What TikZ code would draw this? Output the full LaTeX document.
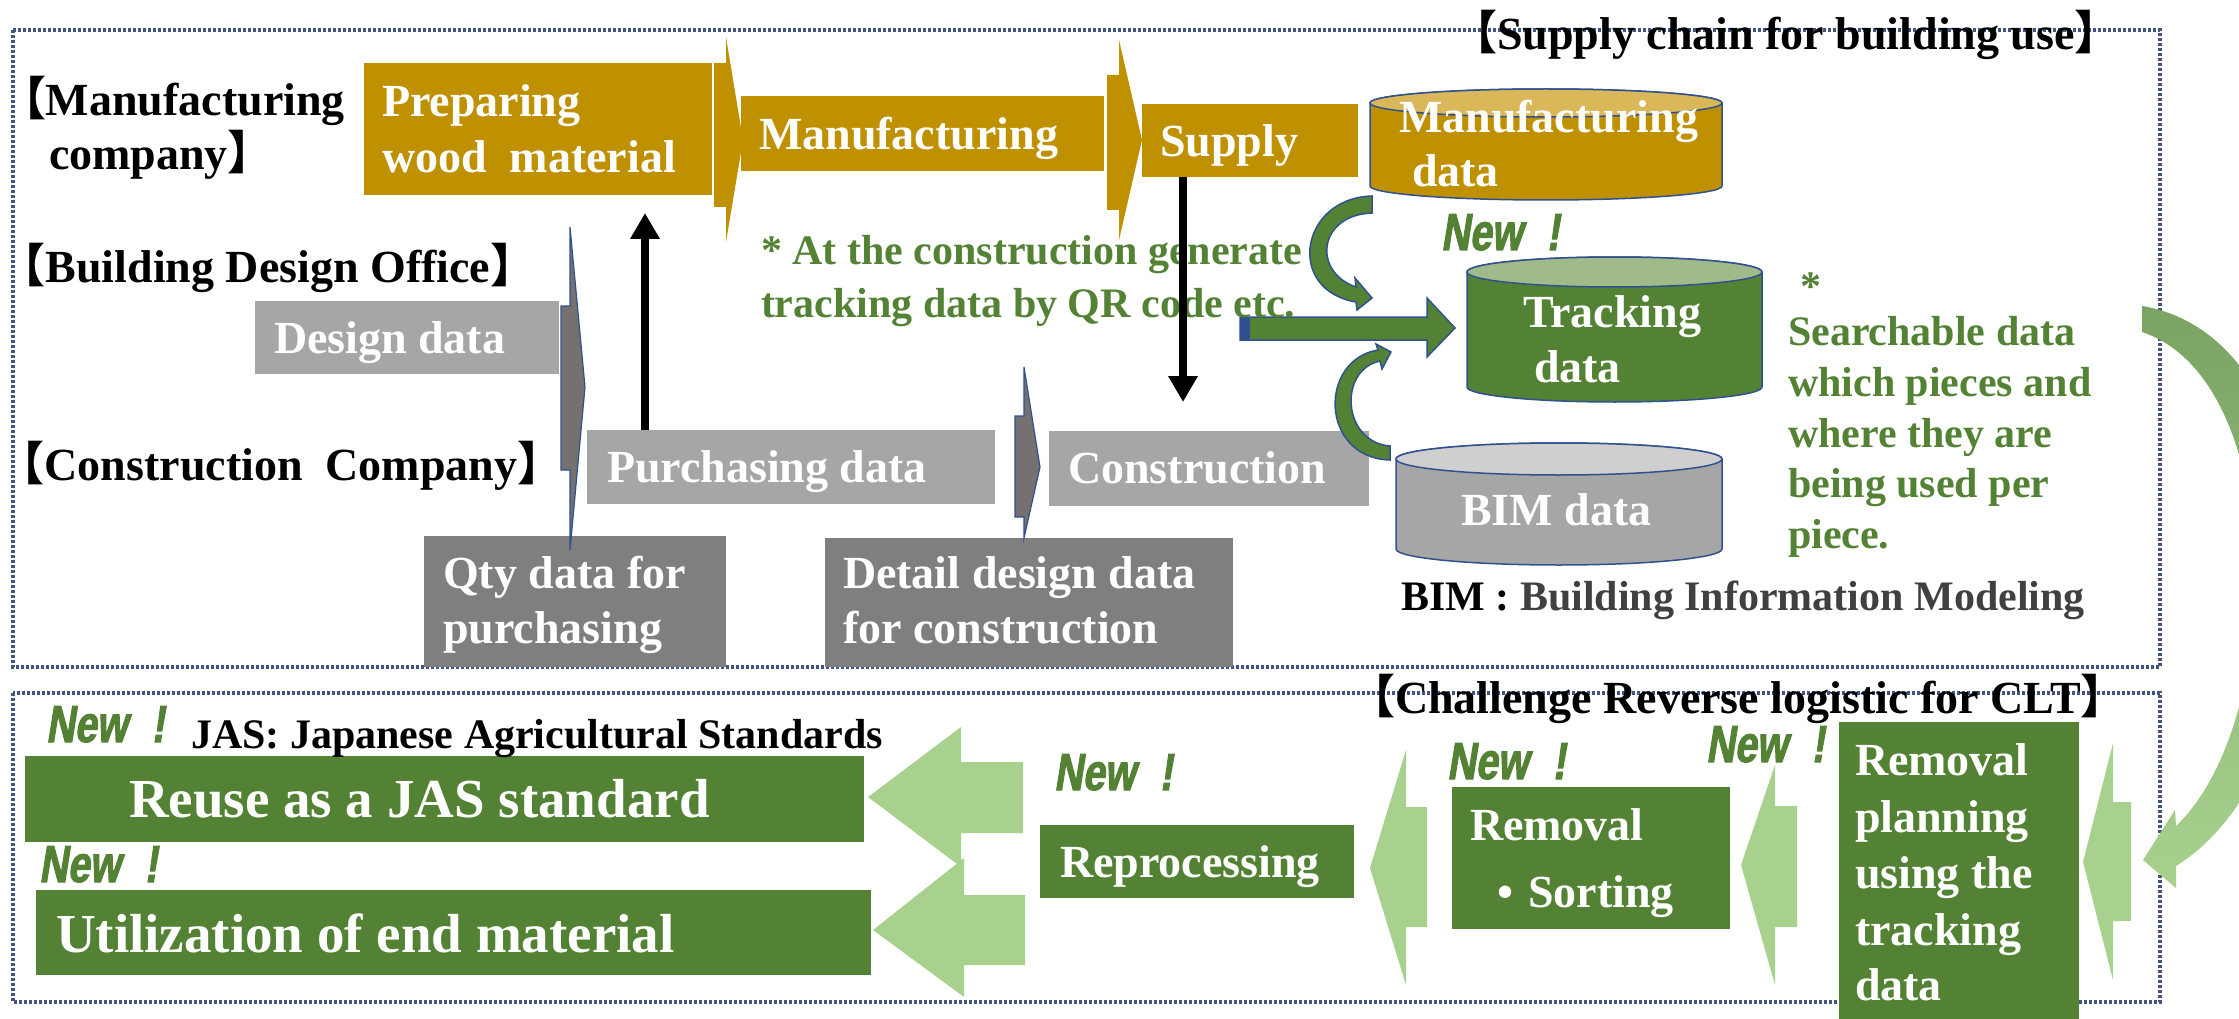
\documentclass[tikz,border=0pt]{standalone}
\usepackage{fontspec}
\setmainfont{Liberation Serif}
\newfontfamily\cjkf{Noto Sans CJK JP}
\newfontfamily\newfnt[FakeStretch=0.76,FakeSlant=0.16,FakeBold=2]{Liberation Sans}
\usetikzlibrary{arrows.meta}
\definecolor{gold}{RGB}{191,144,0}
\definecolor{goldtop}{RGB}{218,184,90}
\definecolor{grn}{RGB}{84,130,53}
\definecolor{grntop}{RGB}{160,186,138}
\definecolor{lgrn}{RGB}{169,209,142}
\definecolor{bigtop}{RGB}{122,163,100}
\definecolor{dgrey}{RGB}{127,127,127}
\definecolor{lgrey}{RGB}{166,166,166}
\definecolor{bimtop}{RGB}{208,206,206}
\definecolor{arrgrey}{RGB}{118,113,113}
\definecolor{outl}{RGB}{47,82,143}
\definecolor{dashc}{RGB}{68,84,130}
\definecolor{bgtxt}{RGB}{64,64,64}
\newcommand\lb{{\cjkf 【}}
\newcommand\rb{{\cjkf 】}}
\newcommand\fsz[1]{\fontsize{#1}{#1}\selectfont}
% name, cx, y top-ellipse centre, y bottom-ellipse centre, rx, ry, body, top
\newcommand\cylshape[8]{%
  \path[fill=#7, draw=outl, line width=1.5pt] ({#2-#5},#3) -- ({#2-#5},#4)
    arc[start angle=180,end angle=0,x radius=#5,y radius=#6] -- ({#2+#5},#3)
    arc[start angle=0,end angle=-180,x radius=#5,y radius=#6] -- cycle;
  \path[fill=#8, draw=outl, line width=1.5pt] (#2,#3) ellipse[x radius=#5, y radius=#6];
  \node[minimum width={2*#5}, minimum height={#4-#3+2*#6}] (#1) at (#2,{(#3+#4)/2}) {};
}
\begin{document}
\begin{tikzpicture}[x=1pt,y=-1pt,
  every node/.style={inner sep=0pt, outer sep=0pt},
  txt/.style={anchor=base west, font=\fsz{46}\bfseries},
  wtxt/.style={txt, text=white},
  btxt/.style={txt, text=black},
  gtxt/.style={anchor=base west, font=\fsz{42}\bfseries, text=grn},
  newtxt/.style={anchor=base west, font=\newfnt\fsz{52}\bfseries, text=grn},
  dashbox/.style={draw=dashc, line width=3.5pt, dash pattern=on 3pt off 2pt},
  greyarrow/.style={fill=arrgrey, draw=outl, line width=1.2pt},
  grnarrow/.style={fill=grn, draw=outl, line width=1.5pt},
  blkarrow/.style={line width=8pt, -{Triangle[width=28pt,length=26pt]}},
]
\useasboundingbox (0,0) rectangle (2239,1019);
\fill[white] (0,0) rectangle (2239,1019);

% frames
\draw[dashbox] (13,30) rectangle (2160,667);
\draw[dashbox] (13,693) rectangle (2160,1002);

% titles
\node[btxt, anchor=base] (ttlSupply) at (1786,50) {\lb Supply chain for building use\rb};
\node[btxt, anchor=base] (ttlRev) at (1738,713) {\lb Challenge Reverse logistic for CLT\rb};

% left labels
\node[btxt, anchor=base east] (lblMfg1) at (345,116) {\lb Manufacturing};
\node[btxt] (lblMfg2) at (49,170) {company\rb};
\node[btxt, anchor=base] (lblBDO) at (268,283) {\lb Building Design Office\rb};
\node[btxt, anchor=base] (lblCC) at (281,480) {\lb Construction~~Company\rb};

% process boxes
\node[fill=gold, minimum width=348, minimum height=132] (prep) at (538,129) {};
\node[fill=gold, minimum width=363, minimum height=75] (manu) at (922.5,133.5) {};
\node[fill=gold, minimum width=216, minimum height=73] (supply) at (1250,140.5) {};
\node[fill=lgrey, minimum width=304, minimum height=73] (design) at (407,337.5) {};
\node[fill=lgrey, minimum width=408, minimum height=74] (purch) at (791,467) {};
\node[fill=lgrey, minimum width=320, minimum height=75] (constr) at (1209,468.5) {};
\node[fill=dgrey, minimum width=302, minimum height=131] (qty) at (575,601.5) {};
\node[fill=dgrey, minimum width=408, minimum height=129] (detail) at (1029,602.5) {};
\node[fill=grn, minimum width=839, minimum height=86] (reuse) at (444.5,799) {};
\node[fill=grn, minimum width=835, minimum height=85] (util) at (453.5,932.5) {};
\node[fill=grn, minimum width=314, minimum height=73] (repro) at (1197,861.5) {};
\node[fill=grn, minimum width=278, minimum height=142] (removal) at (1591,858) {};
\node[fill=grn, minimum width=240, minimum height=310] (plan) at (1959,877) {};

% cylinders
\cylshape{mdata}{1546}{103}{186}{176}{14}{gold}{goldtop}
\cylshape{track}{1614.5}{272}{387}{147.5}{15}{grn}{grntop}
\cylshape{bim}{1559}{459}{549}{163}{16}{lgrey}{bimtop}

% gold chevrons
\fill[gold] (714,63) -- (726,63) -- (726,37) -- (743,140) -- (726,242) -- (726,207) -- (714,207) -- cycle;
\fill[gold] (1107,75) -- (1119,75) -- (1119,40) -- (1142,140) -- (1119,240) -- (1119,210) -- (1107,210) -- cycle;

% grey data arrows
\path[greyarrow] (561,306) -- (570,306) -- (570,227) -- (585,387) -- (570,550) -- (570,470) -- (561,470) -- cycle;
\path[greyarrow] (1015,416) -- (1024,416) -- (1024,367) -- (1040,467) -- (1024,538) -- (1024,517) -- (1015,517) -- cycle;

% green arrows into tracking data
\path[grnarrow] (1240,317) -- (1427,317) -- (1427,298) -- (1455,328) -- (1427,357) -- (1427,340) -- (1240,340) -- cycle;
\fill[outl] (1240,317) rectangle (1250,340);
\path[grnarrow] (1372,196) .. controls (1300,198) and (1285,290) .. (1356,302) -- (1357,310) -- (1372,298) -- (1355,278) -- (1356,287) .. controls (1312,272) and (1318,215) .. (1372,213) -- cycle;
\path[grnarrow] (1390,460) .. controls (1320,458) and (1318,360) .. (1378,350) -- (1376,344) -- (1391,352) -- (1382,369) -- (1380,361) .. controls (1338,370) and (1342,442) .. (1390,446) -- cycle;

% big curved arrow
\shade[top color=bigtop, bottom color=lgrn] (2142,306) .. controls (2347,340) and (2347,760) .. (2176,866) -- (2176,888) -- (2143,860) -- (2175,810) -- (2176,826) .. controls (2287,720) and (2287,380) .. (2142,332) -- cycle;

% reverse logistic arrows
\fill[lgrn] (868,797) -- (961,727) -- (961,762) -- (1023,762) -- (1023,833) -- (961,833) -- (961,867) -- cycle;
\fill[lgrn] (873,930) -- (964,858) -- (964,895) -- (1025,895) -- (1025,965) -- (964,965) -- (964,997) -- cycle;
\fill[lgrn] (1370,868) -- (1406,750) -- (1406,807) -- (1427,807) -- (1427,927) -- (1406,927) -- (1406,985) -- cycle;
\fill[lgrn] (1741,865) -- (1775,765) -- (1775,806) -- (1797,806) -- (1797,927) -- (1775,927) -- (1775,985) -- cycle;
\fill[lgrn] (2083,862) -- (2113,743) -- (2113,802) -- (2131,802) -- (2131,921) -- (2113,921) -- (2113,980) -- cycle;

% box texts
\node[wtxt] (prepT1) at (382,117) {Preparing};
\node[wtxt] (prepT2) at (382,173) {wood~~material};
\node[wtxt] (manuT) at (759,150) {Manufacturing};
\node[wtxt] (supplyT) at (1160,157) {Supply};
\node[wtxt] (designT) at (274,353) {Design data};
\node[wtxt] (purchT) at (607,482) {Purchasing data};
\node[wtxt] (constrT) at (1068,483) {Construction};
\node[wtxt] (qtyT1) at (443,588) {Qty data for};
\node[wtxt] (qtyT2) at (443,643) {purchasing};
\node[wtxt] (detailT1) at (843,588) {Detail design data};
\node[wtxt] (detailT2) at (843,643) {for construction};
\node[wtxt] (mdataT1) at (1399,133) {Manufacturing};
\node[wtxt] (mdataT2) at (1412,187) {data};
\node[wtxt] (trackT1) at (1523,327) {Tracking};
\node[wtxt] (trackT2) at (1534,382) {data};
\node[wtxt] (bimT) at (1461,525) {BIM data};
\node[wtxt, font=\fsz{55}\bfseries] (reuseT) at (129,817) {Reuse as a JAS standard};
\node[wtxt, font=\fsz{55}\bfseries] (utilT) at (56,952) {Utilization of end material};
\node[wtxt] (reproT) at (1060,877) {Reprocessing};
\node[wtxt] (removalT1) at (1470,840) {Removal};
\node[wtxt] (removalB) at (1497,907) {\textbullet};
\node[wtxt] (removalT2) at (1528,907) {Sorting};
\node[wtxt] (planT1) at (1855,775) {Removal};
\node[wtxt] (planT2) at (1855,832) {planning};
\node[wtxt] (planT3) at (1855,888) {using the};
\node[wtxt] (planT4) at (1855,945) {tracking};
\node[wtxt] (planT5) at (1855,1000) {data};

% notes
\node[gtxt] (noteQR1) at (761,265) {* At the construction generate};
\node[gtxt] (noteQR2) at (761,317) {tracking data by QR code etc.};
\node[gtxt] (star) at (1800,300) {*};
\node[gtxt] (srch1) at (1788,345) {Searchable data};
\node[gtxt] (srch2) at (1788,396) {which pieces and};
\node[gtxt] (srch3) at (1788,447) {where they are};
\node[gtxt] (srch4) at (1788,497) {being used per};
\node[gtxt] (srch5) at (1788,548) {piece.};
\node[anchor=base west, font=\fsz{42}\bfseries] (bimdef) at (1401,610) {BIM : \textcolor{bgtxt}{Building Information Modeling}};
\node[anchor=base west, font=\fsz{42}\bfseries] (jas) at (191,748) {JAS: Japanese Agricultural Standards};

% black flow arrows
\draw[blkarrow, shorten >=18pt] ([xshift=58pt]purch.north west) -- ([xshift=281pt]prep.south west);
\draw[blkarrow, shorten >=29pt] ([xshift=41pt]supply.south west) -- ([xshift=134pt]constr.north west);

% New! marks
\node[newtxt] (new1) at (1441,250) {New\hspace{24pt}!};
\node[newtxt] (new2) at (46,742) {New\hspace{24pt}!};
\node[newtxt] (new3) at (39,882) {New\hspace{24pt}!};
\node[newtxt] (new4) at (1054,790) {New\hspace{24pt}!};
\node[newtxt] (new5) at (1447,779) {New\hspace{24pt}!};
\node[newtxt] (new6) at (1706,762) {New\hspace{24pt}!};
\end{tikzpicture}
\end{document}
